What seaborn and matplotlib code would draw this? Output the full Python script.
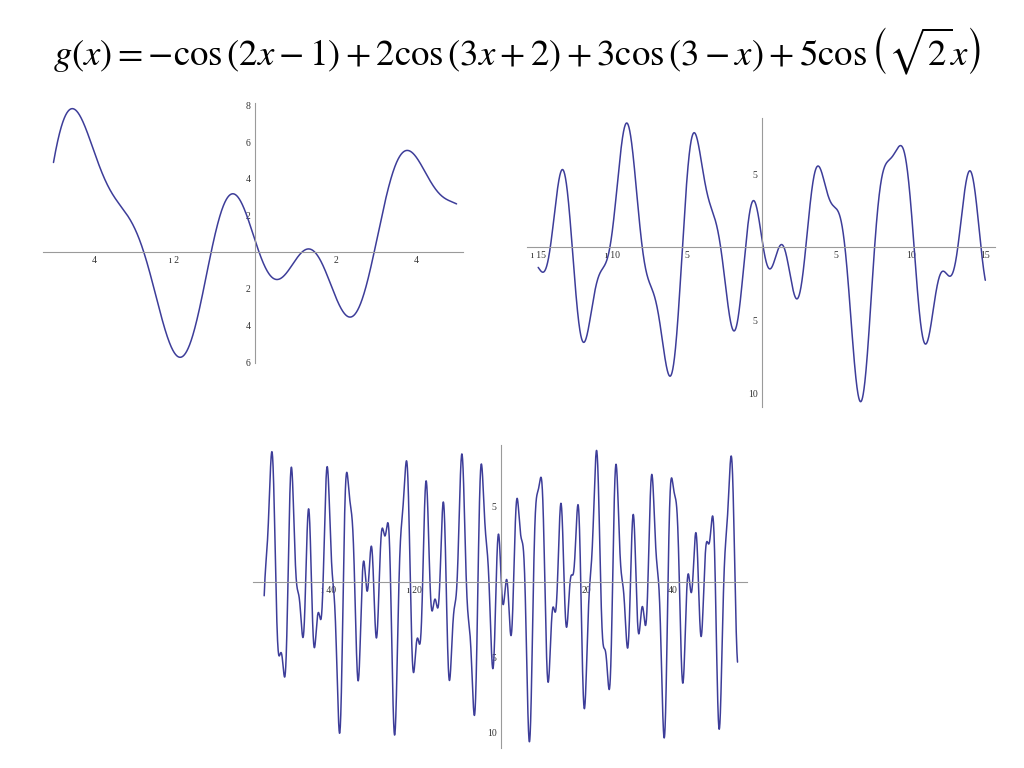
import numpy as np
import seaborn as sns
import matplotlib.pyplot as plt
from matplotlib.ticker import FixedLocator, FixedFormatter, MultipleLocator

# g(x) = sum a_k * cos(w_k * x + p_k), coefficients read from the title
amps = [-1.0, 2.0, 3.0, 5.0]
freqs = [2.0, 3.0, -1.0, np.sqrt(2)]
phases = [-1.0, 2.0, 3.0, 0.0]

# plotted domains of the three panels
domains = [(-5, 5), (-15, 15), (-55, 55)]

# tick positions / labels as they appear (minus sign glyph missing in the original)
xticks = [[-4, -2, 2, 4], [-15, -10, -5, 5, 10, 15], [-40, -20, 20, 40]]
xlabels = [["4", "ı 2", "2", "4"],
           ["ı 15", "ı 10", "5", "5", "10", "15"],
           ["ı 40", "ı 20", "20", "40"]]
yticks = [[-6, -4, -2, 2, 4, 6, 8], [-10, -5, 5], [-10, -5, 5]]
ylabels = [["6", "4", "2", "2", "4", "6", "8"], ["10", "5", "5"], ["10", "5", "5"]]
xminor = [0.4, 1, 5]
yminor = [0.5, 1, 1]

LINE = "#3d3d99"
AXIS = "#9a9a9a"

sns.set_style("white")
plt.rcParams["font.family"] = ["Liberation Serif", "DejaVu Serif"]
plt.rcParams["mathtext.fontset"] = "stix"


def g(x):
    y = np.zeros_like(x)
    for a, w, p in zip(amps, freqs, phases):
        y += a * np.cos(w * x + p)
    return y


fig = plt.figure(figsize=(10.24, 7.68), dpi=100)

# axes boxes in figure fractions (left, bottom, width, height)
boxes = [
    (43 / 1024, 1 - 363 / 768, 420 / 1024, 260 / 768),
    (527 / 1024, 1 - 407 / 768, 468 / 1024, 289 / 768),
    (253 / 1024, 1 - 748 / 768, 494 / 1024, 303 / 768),
]
xlims = [(-5.26, 5.16), (-15.75, 15.65), (-57.6, 57.2)]
ylims = [(-6.05, 8.15), (-10.95, 8.85), (-11.0, 9.1)]

for i in range(3):
    ax = fig.add_axes(boxes[i])
    lo, hi = domains[i]
    xs = np.linspace(lo, hi, 4000)
    sns.lineplot(x=xs, y=g(xs), ax=ax, color=LINE, linewidth=1.1)

    ax.set_xlim(*xlims[i])
    ax.set_ylim(*ylims[i])

    # Mathematica style axes through the origin
    for side in ["top", "right"]:
        ax.spines[side].set_visible(False)
    for side in ["left", "bottom"]:
        ax.spines[side].set_position("zero")
        ax.spines[side].set_color(AXIS)
        ax.spines[side].set_linewidth(0.8)

    ax.xaxis.set_major_locator(FixedLocator(xticks[i]))
    ax.xaxis.set_major_formatter(FixedFormatter(xlabels[i]))
    ax.yaxis.set_major_locator(FixedLocator(yticks[i]))
    ax.yaxis.set_major_formatter(FixedFormatter(ylabels[i]))
    ax.xaxis.set_minor_locator(MultipleLocator(xminor[i]))
    ax.yaxis.set_minor_locator(MultipleLocator(yminor[i]))
    ax.tick_params(which="major", direction="in", length=3, width=0.6,
                   color=AXIS, labelsize=7, labelcolor="#333333", pad=3)
    ax.tick_params(which="minor", direction="in", length=1.6, width=0.5,
                   color=AXIS)
    ax.set_facecolor("none")

fig.text(0.505, 0.933,
         r"$g\left(x\right)=-\cos\left(2x-1\right)+2\cos\left(3x+2\right)"
         r"+3\cos\left(3-x\right)+5\cos\left(\sqrt{2}x\right)$",
         ha="center", va="center", fontsize=26.5, color="black")

plt.savefig("out.png", dpi=100)
plt.close()
